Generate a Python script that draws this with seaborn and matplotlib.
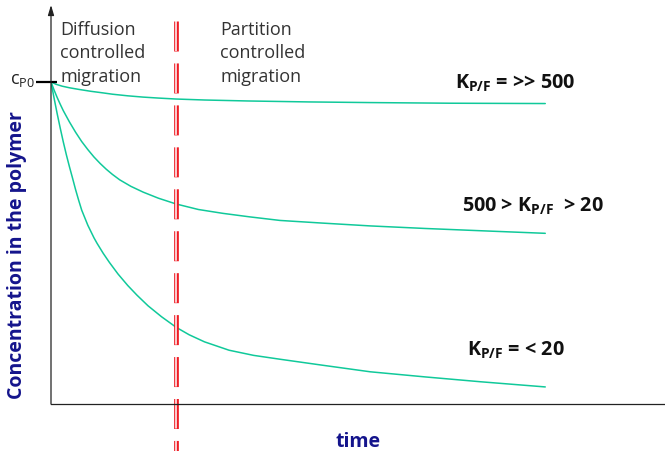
import numpy as np
import pandas as pd
import seaborn as sns
import matplotlib.pyplot as plt

# values: time (arbitrary units), c / c_P0
t_high = [0, 0.08, 0.18, 0.3, 0.45, 0.65, 0.85, 1.0, 1.25, 1.5, 1.75, 2.04,
          2.5, 3.2, 4.2, 5.2, 6.5, 8.05]
c_high = [1.0, 0.993, 0.987, 0.982, 0.977, 0.971, 0.966, 0.962, 0.957, 0.953,
          0.950, 0.947, 0.944, 0.941, 0.938, 0.936, 0.934, 0.933]

t_mid = [0, 0.05, 0.1, 0.15, 0.2, 0.3, 0.4, 0.5, 0.6, 0.7, 0.8, 0.9, 1.0,
         1.12, 1.3, 1.5, 1.75, 2.04, 2.4, 2.8, 3.24, 3.73, 4.4, 5.2, 6.1, 7.0,
         8.05]
c_mid = [1.0, 0.975, 0.952, 0.931, 0.911, 0.876, 0.844, 0.815, 0.790, 0.767,
         0.747, 0.729, 0.713, 0.696, 0.676, 0.658, 0.639, 0.621, 0.604, 0.592,
         0.581, 0.570, 0.562, 0.553, 0.545, 0.538, 0.530]

t_low = [0, 0.05, 0.1, 0.15, 0.2, 0.25, 0.3, 0.35, 0.4, 0.45, 0.5, 0.6, 0.7,
         0.75, 0.85, 0.95, 1.09, 1.25, 1.4, 1.58, 1.8, 2.04, 2.25, 2.5, 2.9,
         3.3, 3.73, 4.4, 5.2, 6.1, 7.0, 8.05]
c_low = [1.0, 0.950, 0.902, 0.857, 0.814, 0.774, 0.737, 0.702, 0.666, 0.633,
         0.602, 0.555, 0.516, 0.499, 0.468, 0.440, 0.404, 0.368, 0.338, 0.305,
         0.271, 0.238, 0.215, 0.193, 0.167, 0.151, 0.139, 0.121, 0.100, 0.084,
         0.069, 0.053]

t_switch = 2.04  # border between diffusion / partition controlled
curve_labels = [r'K$_{\mathbf{P/F}}$ = >> 500',
                r'500 > K$_{\mathbf{P/F}}$  > 20',
                r'K$_{\mathbf{P/F}}$ = < 20']
region_left = ['Diffusion', 'controlled', 'migration']
region_right = ['Partition', 'controlled', 'migration']

sns.set_style('white')
plt.rcParams['font.family'] = ['Open Sans', 'DejaVu Sans']
plt.rcParams['mathtext.fontset'] = 'custom'
plt.rcParams['mathtext.rm'] = 'Open Sans'
plt.rcParams['mathtext.bf'] = 'Open Sans:bold'
plt.rcParams['lines.scale_dashes'] = False

W, H = 665, 452
green = '#10c99a'
navy = '#14148c'

fig = plt.figure(figsize=(W / 100, H / 100), dpi=100)
ax = fig.add_axes([51 / W, 1 - 405 / H, 614 / W, 399 / H])

df = pd.concat([
    pd.DataFrame({'t': t_high, 'c': c_high, 'k': 'high'}),
    pd.DataFrame({'t': t_mid, 'c': c_mid, 'k': 'mid'}),
    pd.DataFrame({'t': t_low, 'c': c_low, 'k': 'low'}),
])
for k in ['high', 'mid', 'low']:
    d = df[df.k == k]
    sns.lineplot(data=d, x='t', y='c', ax=ax, color=green, lw=1.1,
                 estimator=None, sort=False)

ax.set_xlim(0, 10)
ax.set_ylim(0, 1.239)
ax.set_xticks([])
ax.set_yticks([])
ax.set_xlabel('')
ax.set_ylabel('')
for s in ['top', 'right', 'left']:
    ax.spines[s].set_visible(False)
ax.spines['bottom'].set_color('#222222')
ax.spines['bottom'].set_linewidth(0.9)

# y axis with arrow head
ax.annotate('', xy=(0, 1.0), xytext=(0, 0), xycoords='axes fraction',
            arrowprops=dict(arrowstyle='-|>,head_length=0.6,head_width=0.18',
                            color='#222222', lw=0.9, shrinkA=0, shrinkB=0))

# c_P0 mark
ax.plot([-0.244, 0.098], [1.0, 1.0], color='k', lw=1.6, clip_on=False,
        solid_capstyle='butt')
fig.text(35 / W, 1 - 80 / H, r'c$_{\mathrm{P0}}$', ha='right', va='center',
         fontsize=13, color='#222222')

# double red dashed border line
y_top, y_bot = (405 - 21.7) / 322, (405 - 452) / 322
ax.plot([t_switch, t_switch], [y_top, y_bot], color='#ee1c24', lw=3.4,
        ls=(0, (21.6, 8.6)), clip_on=False, solid_capstyle='butt')
ax.plot([t_switch, t_switch], [y_top, y_bot], color='white', lw=1.1,
        ls=(0, (21.6, 8.6)), clip_on=False)

# region texts
for i, (a, b) in enumerate(zip(region_left, region_right)):
    yb = 1 - (35 + 23.3 * i) / H
    fig.text(60 / W, yb, a, fontsize=13, color='#333333', va='baseline')
    fig.text(220 / W, yb, b, fontsize=13, color='#333333', va='baseline')

# curve labels
for lab, (x, y) in zip(curve_labels, [(455, 88.5), (462, 211.5), (467, 356)]):
    fig.text(x / W, 1 - y / H, lab, fontsize=14.2, fontweight='bold',
             color='#111111', va='baseline')

fig.text(17 / W, 1 - 255 / H, 'Concentration in the polymer', rotation=90,
         ha='center', va='center', fontsize=14, fontweight='bold', color=navy)
fig.text(358 / W, 1 - 447 / H, 'time', ha='center', va='baseline',
         fontsize=14, fontweight='bold', color=navy)

fig.savefig('out.png', dpi=100)
